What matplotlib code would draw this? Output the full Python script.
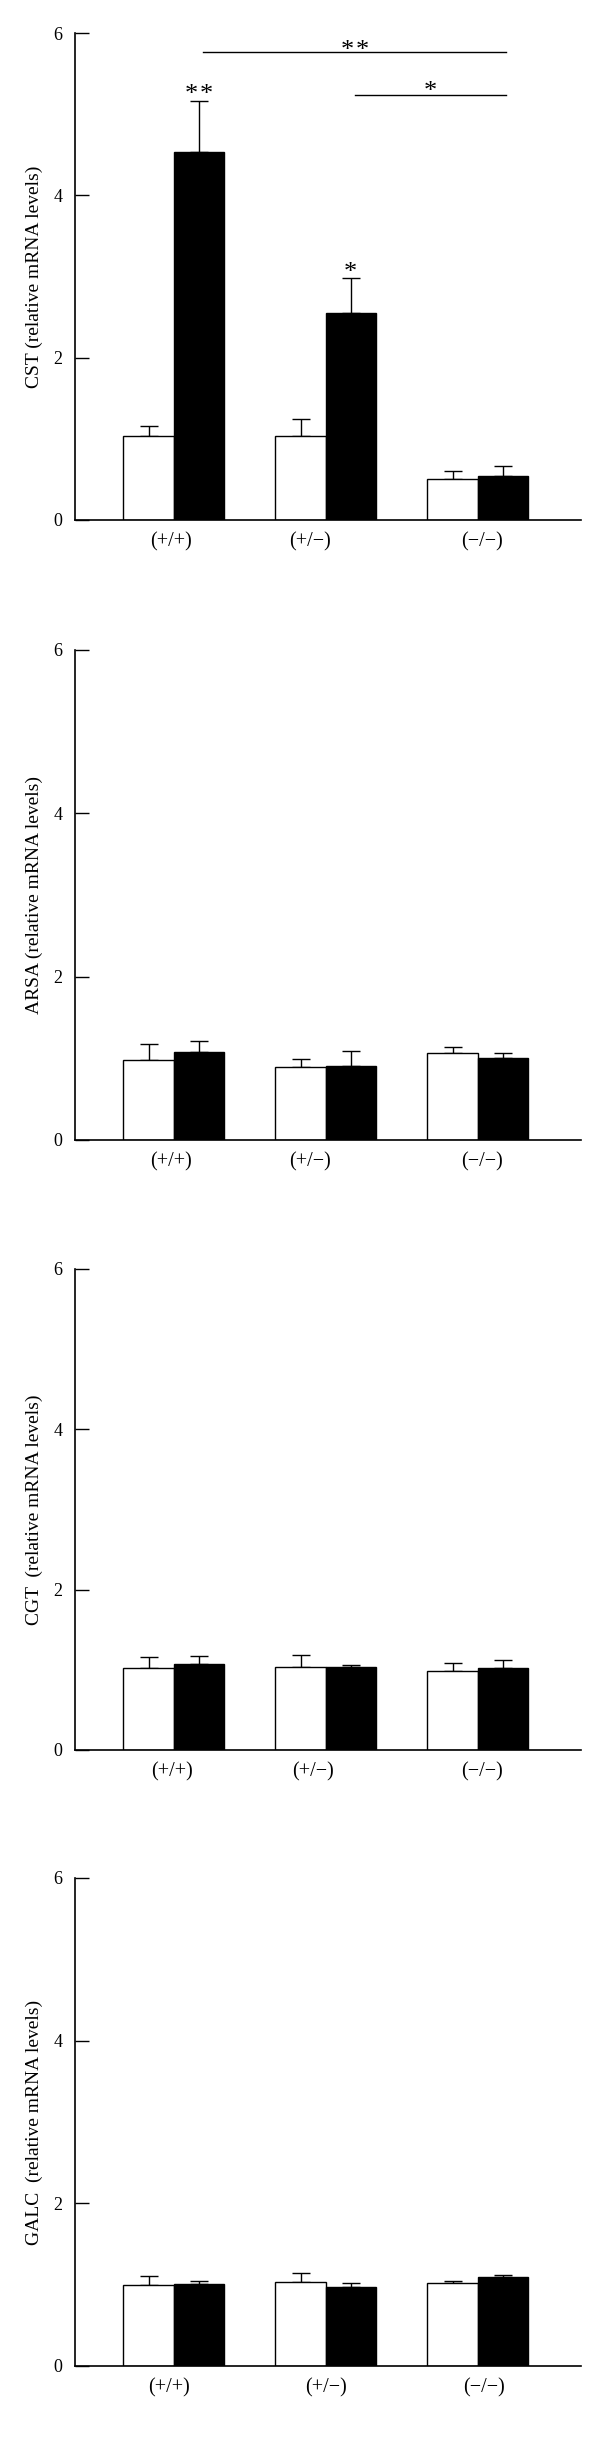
import numpy as np
import matplotlib
matplotlib.use('Agg')
import matplotlib.pyplot as plt

plt.rcParams['font.family'] = ['Liberation Serif', 'DejaVu Serif']

genotypes = ['(+/+)', '(+/\u2212)', '(\u2212/\u2212)']

# relative mRNA levels, white = open bars, black = filled bars
cst_white = [1.03, 1.04, 0.505]
cst_white_err = [0.13, 0.20, 0.095]
cst_black = [4.54, 2.545, 0.536]
cst_black_err = [0.62, 0.435, 0.124]

arsa_white = [0.98, 0.89, 1.06]
arsa_white_err = [0.19, 0.10, 0.08]
arsa_black = [1.08, 0.91, 1.01]
arsa_black_err = [0.13, 0.18, 0.05]

cgt_white = [1.02, 1.04, 0.99]
cgt_white_err = [0.14, 0.15, 0.10]
cgt_black = [1.07, 1.03, 1.02]
cgt_black_err = [0.10, 0.03, 0.10]

galc_white = [0.99, 1.03, 1.02]
galc_white_err = [0.12, 0.11, 0.025]
galc_black = [1.01, 0.975, 1.10]
galc_black_err = [0.04, 0.045, 0.02]

panels = [
    ('CST (relative mRNA levels)', cst_white, cst_white_err, cst_black, cst_black_err),
    ('ARSA (relative mRNA levels)', arsa_white, arsa_white_err, arsa_black, arsa_black_err),
    ('CGT  (relative mRNA levels)', cgt_white, cgt_white_err, cgt_black, cgt_black_err),
    ('GALC  (relative mRNA levels)', galc_white, galc_white_err, galc_black, galc_black_err),
]

# significance marks on the CST panel
bar_stars = [(0, 2), (1, 1)]                 # (group index, number of stars) above black bars
brackets = [(0, 2, 5.76, 2), (1, 2, 5.23, 1)]  # black bar i -> black bar j, height, stars

W, H = 600, 2462
fig = plt.figure(figsize=(W / 100, H / 100), dpi=100)

# axes frames in pixels: (y of value 6, y of value 0)
frames = [(33, 520), (650, 1140), (1269, 1750), (1878, 2366)]
label_pos = [[-0.02, 0.90, 2.03], [-0.02, 0.90, 2.03], [-0.01, 0.92, 2.03], [-0.03, 1.0, 2.04]]

x = np.arange(len(genotypes))
bw = 0.33


def stars(ax, xc, y, n, dy):
    # one asterisk per text, spaced like the original
    pitch = 10.8
    for m in range(n):
        dx = (m - (n - 1) / 2) * pitch
        ax.annotate('*', xy=(xc, y), xytext=(dx, dy), textcoords='offset points',
                    ha='center', va='baseline', fontsize=19)


for k, (ylab, wv, we, bv, be) in enumerate(panels):
    top, bot = frames[k]
    ax = fig.add_axes([75 / W, 1 - bot / H, 506 / W, (bot - top) / H])

    ax.bar(x - bw / 2, wv, bw, color='white', edgecolor='black', linewidth=1.0, zorder=2)
    ax.bar(x + bw / 2, bv, bw, color='black', edgecolor='black', linewidth=1.0, zorder=2)
    ax.errorbar(x - bw / 2, wv, yerr=[np.zeros(3), we], fmt='none', ecolor='black',
                elinewidth=1.0, capsize=6.8, capthick=1.0, zorder=1)
    ax.errorbar(x + bw / 2, bv, yerr=[np.zeros(3), be], fmt='none', ecolor='black',
                elinewidth=1.0, capsize=6.8, capthick=1.0, zorder=1)

    ax.set_xlim(-0.649, 2.68)
    ax.set_ylim(0, 6)
    ax.set_yticks([0, 2, 4, 6])
    ax.set_xticks(label_pos[k])
    ax.set_xticklabels(genotypes, fontsize=14.5)
    ax.tick_params(axis='x', length=0, pad=9)
    ax.tick_params(axis='y', direction='in', length=10, width=1.0, pad=9, labelsize=13)
    for s in ['top', 'right']:
        ax.spines[s].set_visible(False)
    for s in ['left', 'bottom']:
        ax.spines[s].set_linewidth(1.2)
    ax.set_ylabel(ylab, fontsize=14)
    ax.yaxis.set_label_coords(-0.063, 0.5)

    if k == 0:
        for i, n in bar_stars:
            stars(ax, x[i] + bw / 2, bv[i] + be[i], n, -0.5 if n == 1 else 0)
        for i, j, y, n in brackets:
            x1 = x[i] + bw / 2 + 0.03
            x2 = x[j] + bw / 2 + 0.02
            ax.plot([x1, x2], [y, y], color='black', lw=1.0)
            stars(ax, (x1 + x2) / 2, y, n, -3.0 if n == 2 else -1.7)

fig.savefig('out.png', dpi=100)
